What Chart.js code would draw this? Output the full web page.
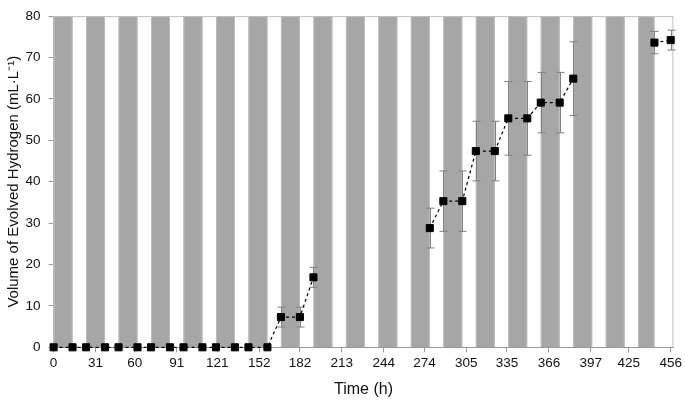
<!DOCTYPE html>
<html><head><meta charset="utf-8">
<script src="https://cdn.jsdelivr.net/npm/chart.js@4"></script>
<style>html,body{margin:0;padding:0;background:#fff}</style>
</head><body>
<canvas id="c" width="685" height="400"></canvas>
<script>
const hours  = [0,14,24,38,48,62,72,86,96,110,120,134,144,158,168,182,192,278,288,302,312,326,336,350,360,374,384,444,456];
const volume = [0,0,0,0,0,0,0,0,0,0,0,0,0,0,7.3,7.3,16.9,28.8,35.3,35.3,47.4,47.4,55.3,55.3,59.1,59.1,64.9,73.6,74.2];
const errors = [0,0,0,0,0,0,0,0,0,0,0,0,0,0,2.4,2.4,2.4,4.8,7.3,7.3,7.2,7.2,8.9,8.9,7.3,7.3,8.9,2.7,2.4];
const xTicks = [0,31,60,91,121,152,182,213,244,274,305,335,366,397,425,456];
const darkStart = [0,24,48,72,96,120,144,168,192,216,240,264,288,312,336,360,384,408,432];
const darkEnd   = [14,38,62,86,110,134,158,182,206,230,254,278,302,326,350,374,398,422,444];

const FONT = "'Liberation Sans', Arial, sans-serif";

const bandsPlugin = {
  id: 'bands',
  beforeDraw(chart) {
    const {ctx, chartArea: a, scales: {x}} = chart;
    ctx.save();
    for (let i = 0; i < darkStart.length; i++) {
      const x0 = x.getPixelForValue(darkStart[i]);
      const x1 = Math.min(x.getPixelForValue(darkEnd[i]), a.right);
      ctx.fillStyle = '#a6a6a6';
      ctx.fillRect(x0, a.top, x1 - x0, a.bottom - a.top);
      ctx.fillStyle = '#bdbdbd';
      ctx.fillRect(x0, a.top, 1, a.bottom - a.top);
      ctx.fillRect(x1 - 1, a.top, 1, a.bottom - a.top);
    }
    ctx.strokeStyle = '#c0c0c0';
    ctx.lineWidth = 1;
    ctx.beginPath();
    ctx.moveTo(a.left, a.top + 0.5); ctx.lineTo(a.right, a.top + 0.5);
    ctx.moveTo(a.right - 0.5, a.top); ctx.lineTo(a.right - 0.5, a.bottom);
    ctx.stroke();
    ctx.restore();
  }
};

const errorPlugin = {
  id: 'errbars',
  beforeDatasetsDraw(chart) {
    const {ctx, scales: {x, y}} = chart;
    ctx.save();
    ctx.strokeStyle = '#7f7f7f';
    ctx.lineWidth = 1;
    for (let i = 0; i < hours.length; i++) {
      if (!errors[i]) continue;
      const px = Math.round(x.getPixelForValue(hours[i])) + 0.5;
      const yt = y.getPixelForValue(volume[i] + errors[i]);
      const yb = y.getPixelForValue(volume[i] - errors[i]);
      ctx.beginPath();
      ctx.moveTo(px, yt); ctx.lineTo(px, yb);
      ctx.moveTo(px - 4, yt); ctx.lineTo(px + 4, yt);
      ctx.moveTo(px - 4, yb); ctx.lineTo(px + 4, yb);
      ctx.stroke();
    }
    ctx.restore();
  }
};

new Chart(document.getElementById('c'), {
  type: 'line',
  data: {
    datasets: [{
      data: hours.map((h, i) => ({x: h, y: volume[i]})),
      borderColor: '#000',
      borderWidth: 1.2,
      borderDash: [3, 3],
      pointStyle: 'rect',
      pointRadius: 5,
      pointBackgroundColor: '#000',
      pointBorderColor: '#000',
      pointBorderWidth: 1,
      fill: false,
      tension: 0,
      clip: false,
      segment: {
        borderColor: c => (c.p1.parsed.x - c.p0.parsed.x > 30 ? 'rgba(0,0,0,0)' : '#000')
      }
    }]
  },
  options: {
    responsive: false,
    animation: false,
    layout: {padding: {top: 8, right: 10.7, bottom: 0, left: 0}},
    plugins: {legend: {display: false}, tooltip: {enabled: false}},
    scales: {
      x: {
        type: 'linear',
        min: 0, max: 458,
        afterBuildTicks: s => { s.ticks = xTicks.map(v => ({value: v})); },
        afterFit: s => { s.height = 52.7; },
        ticks: {autoSkip: false, maxRotation: 0, padding: 3, color: '#111', font: {family: FONT, size: 13.5},
          callback: v => String(v)},
        grid: {drawOnChartArea: false, drawTicks: true, tickLength: 5, color: '#999'},
        border: {display: true, color: '#999', width: 1},
        title: {display: true, text: 'Time (h)', color: '#111', font: {family: FONT, size: 16}, padding: {top: 4, bottom: 1}}
      },
      y: {
        min: 0, max: 80,
        afterFit: s => { s.width = 53.6; },
        ticks: {stepSize: 10, padding: 8, color: '#111', font: {family: FONT, size: 13.5}},
        grid: {drawOnChartArea: false, drawTicks: true, tickLength: 5, color: '#999'},
        border: {display: true, color: '#bbb', width: 1},
        title: {display: true, text: 'Volume of Evolved Hydrogen (mL\u00b7L\u207b\u00b9)', color: '#111', font: {family: FONT, size: 15}, padding: {top: 5, bottom: 4}}
      }
    }
  },
  plugins: [bandsPlugin, errorPlugin]
});
</script>
</body></html>
